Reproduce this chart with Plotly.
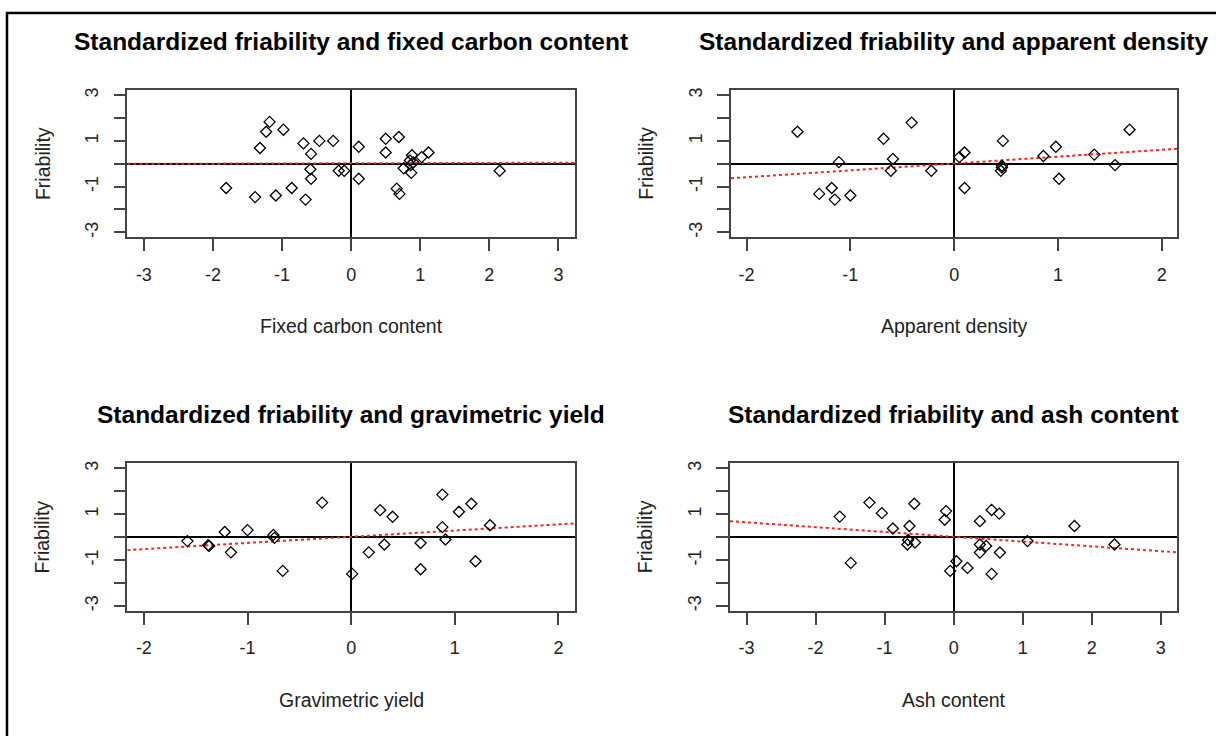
import plotly.graph_objects as go

W, H = 1216, 736

# Standardized values (z-scores) for each property vs. friability
fixed_carbon_x = [-1.18, -1.23, -0.98, -1.32, -0.69, -0.46, -0.26, -0.58, -0.59, -0.58,
                  -0.18, -0.10, -1.81, -1.39, -1.09, -0.86, -0.66, 0.11, 0.11, 0.50,
                  0.69, 0.50, 0.66, 0.70, 0.76, 0.88, 0.85, 0.86, 0.87, 1.02,
                  1.12, 2.15, 0.90]
fixed_carbon_y = [1.83, 1.40, 1.49, 0.69, 0.89, 1.00, 1.00, 0.43, -0.24, -0.66,
                  -0.31, -0.31, -1.06, -1.46, -1.39, -1.06, -1.57, 0.74, -0.66, 1.09,
                  1.17, 0.49, -1.09, -1.32, -0.20, 0.37, 0.14, -0.06, -0.40, 0.29,
                  0.49, -0.31, 0.06]

density_x = [-1.51, -0.41, -0.68, -0.59, -0.61, -0.22, -1.11, -1.30, -1.18, -1.15,
             -1.00, 0.05, 0.10, 0.10, 0.47, 0.46, 0.45, 0.46, 0.86, 0.98,
             1.01, 1.35, 1.55, 1.69]
density_y = [1.40, 1.80, 1.09, 0.21, -0.31, -0.31, 0.07, -1.32, -1.06, -1.57,
             -1.39, 0.29, 0.49, -1.06, 1.00, -0.17, -0.31, -0.09, 0.34, 0.74,
             -0.66, 0.40, -0.06, 1.49]

yield_x = [-1.58, -1.38, -1.37, -1.22, -1.16, -1.00, -0.75, -0.74, -0.66, -0.28,
           0.01, 0.17, 0.28, 0.32, 0.40, 0.67, 0.67, 0.88, 0.88, 0.91,
           1.04, 1.16, 1.20, 1.34]
yield_y = [-0.17, -0.35, -0.38, 0.23, -0.66, 0.31, 0.10, -0.03, -1.47, 1.51,
           -1.60, -0.66, 1.18, -0.32, 0.89, -0.25, -1.40, 1.86, 0.44, -0.10,
           1.11, 1.46, -1.05, 0.52]

ash_x = [-1.65, -1.49, -1.22, -1.04, -0.88, -0.64, -0.57, -0.66, -0.67, -0.56,
         -0.11, -0.13, -0.05, 0.04, 0.20, 0.38, 0.38, 0.38, 0.47, 0.55,
         0.66, 0.67, 0.55, 1.07, 1.75, 2.33]
ash_y = [0.90, -1.12, 1.51, 1.05, 0.38, 0.49, 1.46, -0.12, -0.32, -0.23,
         1.14, 0.76, -1.47, -1.05, -1.34, 0.70, -0.32, -0.67, -0.38, 1.19,
         1.03, -0.67, -1.60, -0.17, 0.49, -0.32]

# Fitted line coefficients (intercept, slope)
fit_intercepts = [0.02, 0.01, 0.02, 0.02]
fit_slopes = [0.008, 0.30, 0.27, -0.21]

titles = [
    "Standardized friability and fixed carbon content",
    "Standardized friability and apparent density",
    "Standardized friability and gravimetric yield",
    "Standardized friability and ash content",
]
x_titles = ["Fixed carbon content", "Apparent density", "Gravimetric yield", "Ash content"]
y_title = "Friability"

x_ranges = [(-3.24, 3.24), (-2.15, 2.15), (-2.16, 2.16), (-3.24, 3.24)]
x_tick_values = [[-3, -2, -1, 0, 1, 2, 3], [-2, -1, 0, 1, 2], [-2, -1, 0, 1, 2],
                 [-3, -2, -1, 0, 1, 2, 3]]
y_tick_values = [-3, -2, -1, 0, 1, 2, 3]
y_tick_text = ["-3", "", "-1", "", "1", "", "3"]
y_range = (-3.22, 3.22)

# Pixel boxes of each panel: left, right, top, bottom
boxes = [
    (127.3, 575.0, 87.5, 235.3),
    (731.0, 1177.3, 87.5, 235.3),
    (127.3, 575.0, 462.3, 610.5),
    (730.0, 1177.3, 462.3, 610.5),
]

series = [
    (fixed_carbon_x, fixed_carbon_y),
    (density_x, density_y),
    (yield_x, yield_y),
    (ash_x, ash_y),
]

FONT = "Liberation Sans, Arial, sans-serif"
fig = go.Figure()
annotations = []
layout_axes = {}

for i in range(4):
    n = "" if i == 0 else str(i + 1)
    xa, ya = "x" + n, "y" + n
    l, r, t, b = boxes[i]
    xs, ys = series[i]

    x0, x1 = x_ranges[i]
    fig.add_trace(go.Scatter(
        x=[x0, x1],
        y=[fit_intercepts[i] + fit_slopes[i] * x0, fit_intercepts[i] + fit_slopes[i] * x1],
        mode="lines", line=dict(color="#ff2020", width=2, dash="dot"),
        xaxis=xa, yaxis=ya, showlegend=False, hoverinfo="skip"))
    fig.add_trace(go.Scatter(
        x=xs, y=ys, mode="markers",
        marker=dict(symbol="diamond-open", size=8.5, color="black",
                    line=dict(color="black", width=1.3)),
        xaxis=xa, yaxis=ya, showlegend=False))

    layout_axes["xaxis" + n] = dict(
        domain=[l / W, r / W], range=list(x_ranges[i]), anchor=ya,
        tickvals=x_tick_values[i], ticktext=[str(v) for v in x_tick_values[i]],
        ticks="outside", ticklen=12, tickwidth=1.5,
        tickcolor="#444", showline=True, linecolor="#444", linewidth=1.5, mirror=True,
        showgrid=False, zeroline=True, zerolinecolor="black", zerolinewidth=1.5,
        tickfont=dict(family=FONT, size=18, color="#222"), ticklabelstandoff=8,
        fixedrange=True)
    layout_axes["yaxis" + n] = dict(
        domain=[1 - b / H, 1 - t / H], range=list(y_range), anchor=xa,
        tickvals=y_tick_values, ticktext=y_tick_text, tickangle=-90,
        ticks="outside", ticklen=12, tickwidth=1.5, tickcolor="#444",
        showline=True, linecolor="#444", linewidth=1.5, mirror=True,
        showgrid=False, zeroline=True, zerolinecolor="black", zerolinewidth=1.5,
        tickfont=dict(family=FONT, size=18, color="#222"), ticklabelstandoff=8,
        fixedrange=True)

    cx = (l + r) / 2
    annotations.append(dict(
        text="<b>" + titles[i] + "</b>", x=cx / W, y=1 - (t - 49) / H,
        xref="paper", yref="paper", showarrow=False, xanchor="center", yanchor="middle",
        font=dict(family=FONT, size=24.5, color="black")))
    annotations.append(dict(
        text=x_titles[i], x=cx / W, y=1 - (b + 89) / H,
        xref="paper", yref="paper", showarrow=False, xanchor="center", yanchor="middle",
        font=dict(family=FONT, size=19.5, color="#222")))
    annotations.append(dict(
        text=y_title, x=(l - 85) / W, y=1 - ((t + b) / 2) / H, textangle=-90,
        xref="paper", yref="paper", showarrow=False, xanchor="center", yanchor="middle",
        font=dict(family=FONT, size=19.5, color="#222")))

fig.update_layout(
    width=W, height=H, margin=dict(l=0, r=0, t=0, b=0),
    paper_bgcolor="white", plot_bgcolor="white",
    annotations=annotations,
    shapes=[dict(type="path", xref="paper", yref="paper",
                 path=f"M {7 / W},0 L {7 / W},{1 - 10 / H} L 1,{1 - 10 / H}",
                 line=dict(color="black", width=2.5))],
    **layout_axes)

fig.write_html("out.html")
